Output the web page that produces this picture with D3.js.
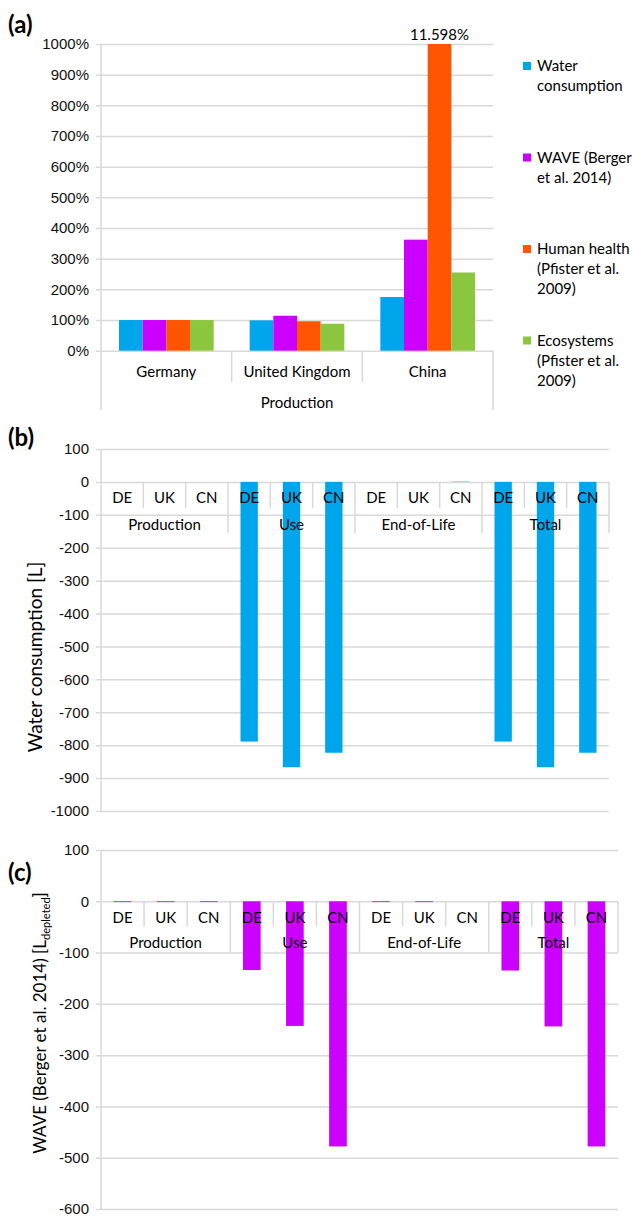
<!DOCTYPE html>
<html>
<head>
<meta charset="utf-8">
<script src="https://cdn.jsdelivr.net/npm/d3@7"></script>
<style>
  body { margin: 0; background: #fff; }
  svg { display: block; font-family: Lato, "Open Sans", sans-serif; }
  .tick text { fill: #111; }
</style>
</head>
<body>
<div id="chart"></div>
<script>
// (a) production impacts relative to Germany
const countries = ["Germany", "United Kingdom", "China"];
const indicators = ["Water consumption", "WAVE (Berger et al. 2014)",
  "Human health (Pfister et al. 2009)", "Ecosystems (Pfister et al. 2009)"];
const legendLines = [["Water", "consumption"], ["WAVE (Berger", "et al. 2014)"],
  ["Human health", "(Pfister et al.", "2009)"], ["Ecosystems", "(Pfister et al.", "2009)"]];
const waterPct = [100, 99, 175];
const wavePct = [100, 114, 362];
const humanPct = [100, 96, 11598];
const ecoPct = [100, 88, 255];
const pctTicks = [0, 100, 200, 300, 400, 500, 600, 700, 800, 900, 1000];

// (b), (c) life cycle phases
const phases = ["Production", "Use", "End-of-Life", "Total"];
const regions = ["DE", "UK", "CN"];
const waterL = [0, 0, 0, -789, -867, -823, 0, 0, 1, -789, -867, -823];
const waveL = [-1.5, -1.5, -1.5, -134, -243, -478, -1.5, -1.5, 0, -135, -244, -478];
const ticksB = [100, 0, -100, -200, -300, -400, -500, -600, -700, -800, -900, -1000];
const ticksC = [100, 0, -100, -200, -300, -400, -500, -600];

const colors = ["#00a6eb", "#cc00ff", "#ff5500", "#8cc63f"];
const gridColor = "#d9d9d9";

const svg = d3.select("#chart").append("svg")
  .attr("width", 632)
  .attr("height", 1217);

// ---------- panel (a) ----------
const a = { left: 101, right: 493, top: 44, bottom: 350.7 };

const x0 = d3.scaleBand().domain(countries).range([a.left, a.right]);
const x1 = d3.scaleBand().domain(indicators)
  .range([0, x0.bandwidth()]).paddingOuter(0.76);
const yA = d3.scaleLinear().domain([0, 1000]).range([a.bottom, a.top]).clamp(true);

svg.append("g")
  .attr("transform", `translate(${a.left - 5},0)`)
  .call(d3.axisLeft(yA).tickValues(pctTicks).tickFormat(d => d + "%")
    .tickSizeInner(-(a.right - a.left + 5)).tickSizeOuter(0).tickPadding(7))
  .call(g => g.select(".domain").remove())
  .call(g => g.selectAll(".tick line").attr("stroke", gridColor).attr("stroke-width", 1.5))
  .call(g => g.selectAll(".tick text").attr("font-size", 15));

const seriesA = [waterPct, wavePct, humanPct, ecoPct];
const gA = svg.append("g");
countries.forEach((c, ci) => {
  gA.append("g")
    .selectAll("rect")
    .data(indicators.map((ind, k) => ({ ind, v: seriesA[k][ci], k })))
    .join("rect")
      .attr("x", d => x0(c) + x1(d.ind))
      .attr("y", d => yA(d.v))
      .attr("width", x1.bandwidth())
      .attr("height", d => yA(0) - yA(d.v))
      .attr("fill", d => colors[d.k]);
});

// value label on the clipped bar
svg.append("text")
  .attr("x", x0("China") + x1(indicators[2]) + x1.bandwidth() / 2)
  .attr("y", yA(1000) - 4)
  .attr("text-anchor", "middle")
  .attr("font-size", 15)
  .text("11.598%");

// category frame
const catLines = svg.append("g").attr("stroke", gridColor).attr("stroke-width", 1.5);
catLines.append("line").attr("x1", a.left).attr("x2", a.left).attr("y1", a.top).attr("y2", 410);
catLines.append("line").attr("x1", a.right).attr("x2", a.right).attr("y1", a.bottom).attr("y2", 410);
countries.slice(1).forEach(c => {
  catLines.append("line").attr("x1", x0(c)).attr("x2", x0(c)).attr("y1", a.bottom).attr("y2", 382);
});
svg.append("g").selectAll("text")
  .data(countries)
  .join("text")
    .attr("x", d => x0(d) + x0.bandwidth() / 2)
    .attr("y", 377)
    .attr("text-anchor", "middle")
    .attr("font-size", 15)
    .text(d => d);
svg.append("text")
  .attr("x", (a.left + a.right) / 2)
  .attr("y", 408)
  .attr("text-anchor", "middle")
  .attr("font-size", 15)
  .text("Production");

// legend
const legend = svg.append("g").attr("transform", "translate(523,0)");
legendLines.forEach((lines, i) => {
  const cy = 66 + i * 91.5;
  legend.append("rect").attr("x", 0).attr("y", cy - 4).attr("width", 8).attr("height", 8)
    .attr("fill", colors[i]);
  legend.append("text")
    .attr("x", 14)
    .attr("y", cy + 5)
    .attr("font-size", 15)
    .selectAll("tspan")
    .data(lines)
    .join("tspan")
      .attr("x", 14)
      .attr("dy", (d, j) => j ? 20 : 0)
      .text(d => d);
});

svg.append("text").attr("x", 8).attr("y", 33)
  .attr("font-size", 24).attr("font-weight", "bold").text("(a)");

// ---------- panels (b) and (c) ----------
function phasePanel(p) {
  const g = svg.append("g");
  const keys = [];
  phases.forEach(ph => regions.forEach(r => keys.push(ph + "|" + r)));

  const x = d3.scaleBand().domain(keys).range([p.left, p.right])
    .paddingInner(0.59).paddingOuter(0.295);
  const y = d3.scaleLinear().domain(p.domain).range([p.bottom, p.top]);
  const step = x.step();

  g.append("g")
    .attr("transform", `translate(${p.left - 5},0)`)
    .call(d3.axisLeft(y).tickValues(p.ticks).tickFormat(d => String(d))
      .tickSizeInner(-(p.right - p.left + 5)).tickSizeOuter(0).tickPadding(7))
    .call(s => s.select(".domain").remove())
    .call(s => s.selectAll(".tick line").attr("stroke", gridColor).attr("stroke-width", 1.5))
    .call(s => s.selectAll(".tick text").attr("font-size", 15));

  g.append("line")
    .attr("x1", p.left).attr("x2", p.left)
    .attr("y1", y(p.domain[1])).attr("y2", y(p.domain[0]))
    .attr("stroke", gridColor).attr("stroke-width", 1.5);

  g.append("g")
    .selectAll("rect")
    .data(keys.map((k, i) => ({ k, v: p.values[i] })))
    .join("rect")
      .attr("x", d => x(d.k))
      .attr("y", d => y(Math.max(0, d.v)))
      .attr("width", x.bandwidth())
      .attr("height", d => Math.abs(y(d.v) - y(0)))
      .attr("fill", p.color);

  const y0 = y(0);
  const div = g.append("g").attr("stroke", gridColor).attr("stroke-width", 1.5);
  keys.forEach((k, i) => {
    if (i === 0) return;
    const xx = p.left + i * step;
    div.append("line").attr("x1", xx).attr("x2", xx)
      .attr("y1", y0).attr("y2", y0 + (i % 3 === 0 ? p.groupDrop : p.subDrop));
  });
  div.append("line").attr("x1", p.right).attr("x2", p.right)
    .attr("y1", y0).attr("y2", y0 + p.groupDrop);

  g.append("g").selectAll("text")
    .data(keys)
    .join("text")
      .attr("x", d => x(d) + x.bandwidth() / 2)
      .attr("y", y0 + p.subY)
      .attr("text-anchor", "middle")
      .attr("font-size", 15)
      .text(d => d.split("|")[1]);
  g.append("g").selectAll("text")
    .data(phases)
    .join("text")
      .attr("x", (d, i) => p.left + (i * 3 + 1.5) * step)
      .attr("y", y0 + p.groupY)
      .attr("text-anchor", "middle")
      .attr("font-size", 15)
      .text(d => d);

  const title = g.append("text")
    .attr("transform", `translate(${p.titleX},${p.titleY}) rotate(-90)`)
    .attr("text-anchor", "middle")
    .attr("font-size", p.titleSize);
  title.append("tspan").text(p.title);
  if (p.sub) {
    title.append("tspan").attr("font-size", p.titleSize * 0.65).attr("dy", 4).text(p.sub);
    title.append("tspan").attr("dy", -4).text("]");
  }

  svg.append("text").attr("x", 8).attr("y", p.labelY)
    .attr("font-size", 24).attr("font-weight", "bold").text(p.label);
}

phasePanel({
  left: 101, right: 609, top: 449, bottom: 811,
  domain: [-1000, 100], ticks: ticksB, values: waterL, color: colors[0],
  subDrop: 26, groupDrop: 51, subY: 21, groupY: 48,
  title: "Water consumption [L]", titleX: 42, titleY: 657, titleSize: 19,
  label: "(b)", labelY: 446
});

phasePanel({
  left: 101, right: 618, top: 850, bottom: 1209,
  domain: [-600, 100], ticks: ticksC, values: waveL, color: colors[1],
  subDrop: 25, groupDrop: 51.3, subY: 22, groupY: 47,
  title: "WAVE (Berger et al. 2014) [L", sub: "depleted",
  titleX: 46, titleY: 1023, titleSize: 17,
  label: "(c)", labelY: 881
});
</script>
</body>
</html>
